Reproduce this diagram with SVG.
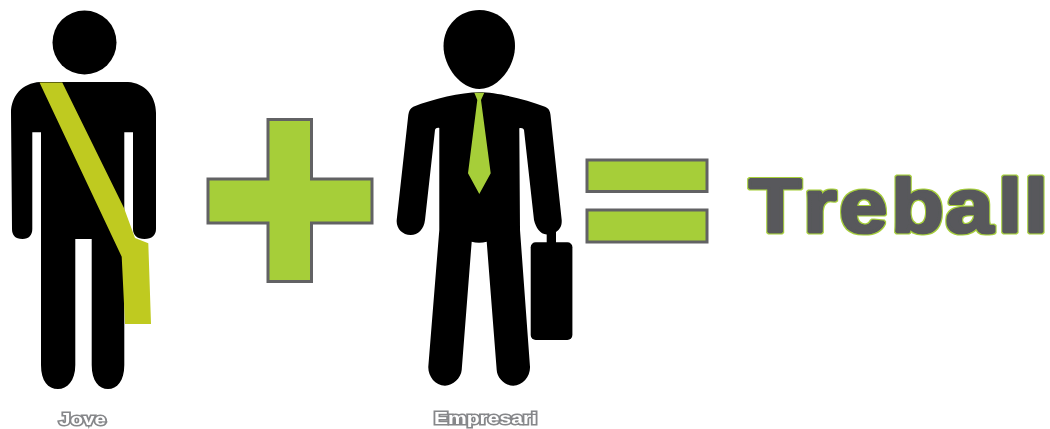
<svg xmlns="http://www.w3.org/2000/svg" width="1050" height="429" viewBox="0 0 1050 429">
<defs>
<filter id="lime" x="-5%" y="-20%" width="110%" height="140%">
<feMorphology in="SourceAlpha" operator="dilate" radius="1.200"/>
<feGaussianBlur stdDeviation="0.3" result="d"/>
<feFlood flood-color="#a6ce39"/>
<feComposite in2="d" operator="in" result="o"/>
<feMerge><feMergeNode in="o"/><feMergeNode in="SourceGraphic"/></feMerge>
</filter>
<filter id="soft" x="-10%" y="-30%" width="120%" height="160%">
<feGaussianBlur stdDeviation="0.4"/>
</filter>
</defs>
<style>
.fig{fill:#000}
.math{fill:#a6ce39;stroke:#626264;stroke-width:3}
.lab{font-family:"Liberation Sans",Arial,sans-serif;font-weight:700;font-size:17px;fill:#fff;stroke:#86878a;stroke-width:3px;paint-order:stroke;text-anchor:middle}
.big{font-family:"Liberation Sans",Arial,sans-serif;font-weight:700;font-size:76px;fill:#58595b;stroke:#58595b;stroke-width:3.2px;stroke-linejoin:bevel}
</style>
<g id="jove">
<circle class="fig" cx="84.5" cy="42.5" r="32"/>
<path class="fig" d="M40 82H128C145 83 156 96 156 113V229C156 235 152 239 144.500 239C137 239 133 235 133 229V132.300H124.300V365C124.300 381 117 389 108 389C99 389 91.700 381 91.700 365V239H75.300V365C75.300 381 67 389 58 389C48 389 41 381 41 365V132.300H32.300V229C32.300 235 29 239 22.500 239C15 239 12 235 12 229L11 113C11 96 22 83 40 82Z"/>
<path fill="#bfca20" d="M39.500 82.500H62.300L124 208L135 238L148.300 243.300L151 324H125L121.700 256.700Z"/>
</g>
<g id="plus">
<path class="math" d="M268 119.500H311.500V179H372V223H311.500V281.500H268V223H208V179H268Z"/>
</g>
<g id="empresari">
<path class="fig" d="M479.300 10C499 10 515 25 515 46C515 67 498 89 479.300 89C461 89 443.500 67 443.500 46C443.500 25 460 10 479.300 10Z"/>
<path class="fig" d="M479.300 92.300C497 92.300 525 99 545 106.700C549 108.500 550 111 550.500 115L561.700 220C562 226 560 229 556 232V243H546.700V234.500C540 234 536 228 534 220L524 130C523.500 128 521 127.500 519.300 128.300L520 230L530 366.700C530.500 376 523 385.700 513.300 385.700C505 385.700 497 378 496.700 370L486.700 241.700C482 243 476 243 471.700 241.700L461.700 370C461 378 453 385.700 445 385.700C435 385.700 428 376 428.300 366.700L439.300 230V128C437.500 127.500 435.500 128 435 130L425 220C424 229 418 235 410.700 235C402 235 396 228 396.700 220L408.300 115C409 111 410 108.500 413.300 106.700C433 99 461 92.300 479.300 92.300Z"/>
<rect class="fig" x="530.700" y="242.300" width="41.700" height="97.700" rx="5"/>
<path fill="#a6ce39" d="M474.300 92.700H484.300L481 100L490.700 173.300L479.300 194L468 173.300L477.300 100Z"/>
</g>
<g id="equals">
<rect class="math" x="587" y="160" width="120" height="31.500"/>
<rect class="math" x="587" y="210" width="120" height="32"/>
</g>
<g id="treball">
<text class="big" transform="translate(749 232.300) scale(1.13 1)" x="0 48 80.200 125.900 174 220.400 243.400" y="0" filter="url(#lime)">Treball</text>
</g>
<g id="labels">
<text class="lab" x="82.500" y="425" textLength="47" lengthAdjust="spacingAndGlyphs" filter="url(#soft)">Jove</text>
<text class="lab" x="485.500" y="423.500" textLength="103" lengthAdjust="spacingAndGlyphs" filter="url(#soft)">Empresari</text>
</g>
</svg>
